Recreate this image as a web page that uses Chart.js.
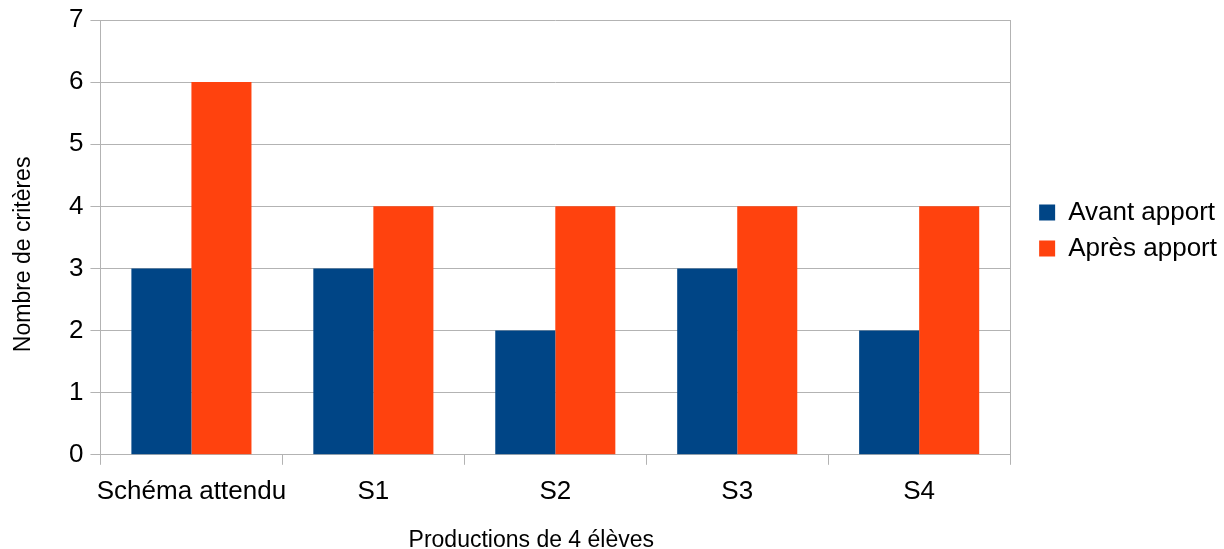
<!DOCTYPE html>
<html lang="fr">
<head>
  <meta charset="UTF-8" />
  <title>Nombre de critères</title>
  <script src="https://cdn.jsdelivr.net/npm/chart.js"></script>
  <style>
    html, body { margin: 0; padding: 0; background: #fff; }
    .wrap { width: 1224px; height: 549px; }
  </style>
</head>
<body>
  <div class="wrap"><canvas id="chart" width="1224" height="549"></canvas></div>
  <script>
const categories = ['Schéma attendu', 'S1', 'S2', 'S3', 'S4'];
const avantApport = [3, 3, 2, 3, 2];
const apresApport = [6, 4, 4, 4, 4];
const yTicks = [0, 1, 2, 3, 4, 5, 6, 7];

const xTitle = 'Productions de 4 élèves';
const yTitle = 'Nombre de critères';

const gridColor = '#b3b3b3';
const titleFont = '23px "Liberation Sans"';

// axis titles are drawn here so they can sit off-centre like the original;
// the scale titles stay in the config (transparent) to reserve the space
const axisTitles = {
  id: 'axisTitles',
  afterLayout(chart) {
    // nudge the legend a bit up/right, like the original
    if (chart.legend) {
      chart.legend.top -= 7;
      chart.legend.bottom -= 7;
      chart.legend.left += 3;
      chart.legend.right += 3;
    }
  },
  afterDraw(chart) {
    const a = chart.chartArea;
    const c = chart.ctx;
    const xs = chart.scales.x;
    const ys = chart.scales.y;
    c.save();
    c.fillStyle = '#000';
    c.font = titleFont;
    c.textAlign = 'center';
    c.textBaseline = 'middle';
    c.fillText(xTitle, (a.left + a.right) / 2 - 24, xs.bottom - 8);
    c.translate(ys.left + 12, (a.top + a.bottom) / 2 + 17);
    c.rotate(-Math.PI / 2);
    c.fillText(yTitle, 0, 0);
    c.restore();
  }
};

new Chart(document.getElementById('chart').getContext('2d'), {
  type: 'bar',
  data: {
    labels: categories,
    datasets: [
      { label: 'Avant apport', data: avantApport, backgroundColor: '#004586' },
      { label: 'Après apport', data: apresApport, backgroundColor: '#ff420e' }
    ]
  },
  options: {
    responsive: false,
    animation: false,
    devicePixelRatio: 1,
    datasets: { bar: { categoryPercentage: 0.66, barPercentage: 1.0 } },
    layout: { padding: { left: 12, right: 0, top: 6, bottom: 0 } },
    scales: {
      x: {
        grid: {
          offset: true,
          drawOnChartArea: false,
          drawTicks: true,
          tickLength: 10,
          color: gridColor
        },
        border: { color: gridColor },
        ticks: {
          color: '#000',
          font: { family: 'Liberation Sans', size: 26 },
          padding: 11,
          autoSkip: false,
          minRotation: 0,
          maxRotation: 0
        },
        title: {
          display: true,
          text: xTitle,
          color: 'rgba(0,0,0,0)',
          font: { family: 'Liberation Sans', size: 23, lineHeight: 1.0 },
          padding: { top: 10, bottom: -2 }
        }
      },
      y: {
        min: 0,
        max: 7,
        afterBuildTicks(axis) {
          axis.ticks = yTicks.map(v => ({ value: v }));
        },
        grid: { color: gridColor, tickLength: 10 },
        border: { color: gridColor },
        ticks: {
          color: '#000',
          font: { family: 'Liberation Sans', size: 26, lineHeight: 1.0 },
          padding: 7
        },
        title: {
          display: true,
          text: yTitle,
          color: 'rgba(0,0,0,0)',
          font: { family: 'Liberation Sans', size: 23, lineHeight: 1.0 },
          padding: { top: 0, bottom: 27 }
        }
      },
      // empty right-hand axis: draws the right edge of the plot and keeps a gap before the legend
      edge: {
        type: 'linear',
        position: 'right',
        min: 0,
        max: 7,
        grid: { display: false },
        border: { display: true, color: gridColor },
        ticks: { display: false },
        afterFit(scale) { scale.width = 16; }
      }
    },
    plugins: {
      legend: {
        position: 'right',
        fullSize: false,
        labels: {
          color: '#000',
          font: { family: 'Liberation Sans', size: 26 },
          boxWidth: 16,
          boxHeight: 16,
          padding: 10
        }
      },
      tooltip: { enabled: false }
    }
  },
  plugins: [axisTitles]
});
  </script>
</body>
</html>
